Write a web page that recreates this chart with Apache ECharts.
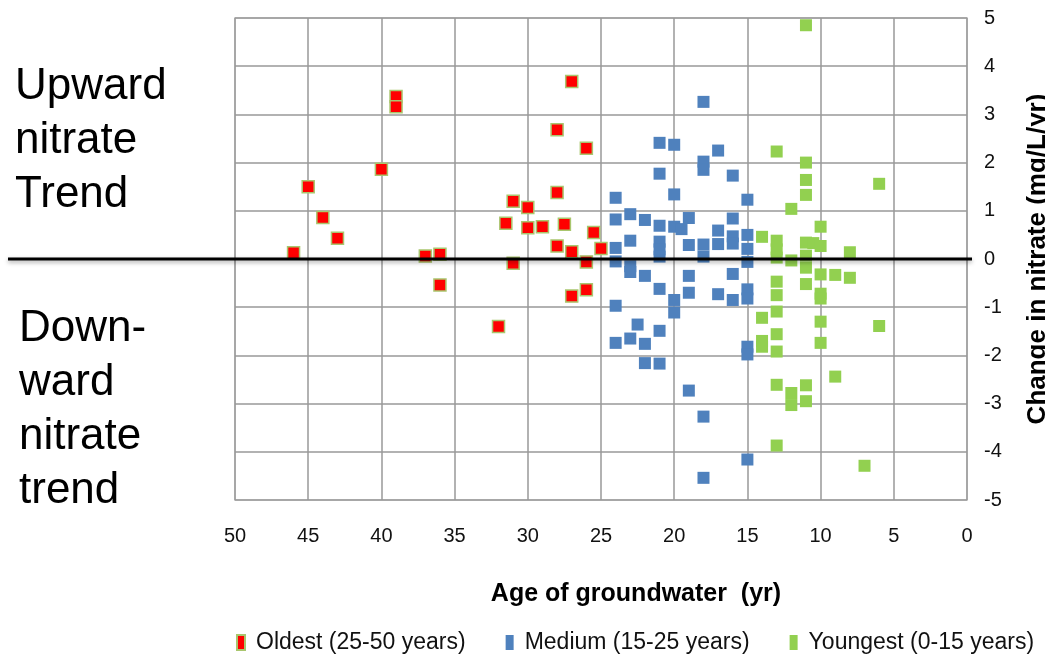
<!DOCTYPE html>
<html>
<head>
<meta charset="utf-8">
<title>Nitrate trend vs groundwater age</title>
<script src="https://cdn.jsdelivr.net/npm/echarts@6/dist/echarts.min.js"></script>
<style>
  html, body { margin: 0; padding: 0; background: #fff; }
  #chart { width: 1045px; height: 660px; }
</style>
</head>
<body>
<div id="chart"></div>
<script>
// values (age in yr, change in mg/L/yr)
var oldestAge = [46, 45, 44, 43, 40, 39, 39, 37, 36, 36, 32, 31.5, 31, 31, 30, 30, 29, 28, 28, 28, 27.5, 27, 27, 27, 26, 26, 26, 25.5, 25];
var oldestChange = [0.13, 1.5, 0.86, 0.43, 1.86, 3.37, 3.16, 0.06, 0.10, -0.54, -1.40, 0.74, 1.20, -0.09, 1.07, 0.65, 0.67, 2.68, 1.38, 0.27, 0.72, 3.68, 0.15, -0.77, 2.30, -0.06, -0.64, 0.55, 0.22];

var mediumAge = [18, 21, 20, 17, 18, 18, 16, 21, 24, 20, 15, 24, 23, 22, 21, 20, 19.5, 19, 16, 23, 24, 21, 21, 21, 19, 18, 18, 17, 17, 16, 16, 15, 15, 15,
  24, 23, 23, 22, 21, 20, 20, 19, 19, 17, 16, 16, 15, 15, 24, 22.5, 23, 24, 22, 21, 22, 21, 19, 18, 18, 15, 15, 15];
var mediumChange = [3.26, 2.41, 2.37, 2.25, 2.02, 1.85, 1.73, 1.77, 1.27, 1.34, 1.23, 0.82, 0.93, 0.81, 0.69, 0.67, 0.62, 0.85, 0.84, 0.38, 0.23, 0.36, 0.20, 0.05, 0.29, 0.30, 0.05, 0.59, 0.31, 0.47, 0.32, 0.50, 0.21, -0.06,
  -0.05, -0.15, -0.27, -0.35, -0.62, -0.85, -1.11, -0.35, -0.70, -0.73, -0.31, -0.85, -0.63, -0.82, -0.97, -1.36, -1.65, -1.74, -1.76, -1.49, -2.16, -2.17, -2.73, -3.27, -4.54, -1.82, -1.98, -4.16];

var youngestAge = [11, 13, 11, 11, 11, 6, 12, 10, 14, 13, 13, 13, 12, 11, 11, 11, 10.5, 10, 8, 10, 9, 8, 11, 13, 13, 10, 10,
  13, 14, 14, 14, 13, 13, 13, 12, 12, 11, 11, 13, 10, 10, 9, 6, 7];
var youngestChange = [4.85, 2.23, 2.0, 1.64, 1.33, 1.56, 1.04, 0.67, 0.46, 0.38, 0.20, 0.03, -0.03, 0.34, 0.07, -0.18, 0.33, 0.27, 0.14, -0.32, -0.33, -0.39, -0.52, -0.47, -0.75, -0.72, -0.82,
  -1.09, -1.22, -1.70, -1.82, -1.56, -1.92, -2.61, -2.78, -3.03, -2.62, -2.95, -3.87, -1.30, -1.74, -2.44, -1.39, -4.29];

var seriesNames = ['Oldest (25-50 years)', 'Medium (15-25 years)', 'Youngest (0-15 years)'];
var xTitle = 'Age of groundwater  (yr)';
var yTitle = 'Change in nitrate (mg/L/yr)';
var upText = 'Upward\nnitrate\nTrend';
var downText = 'Down-\nward\nnitrate\ntrend';

function pairs(xs, ys) {
  return xs.map(function (x, i) { return [x, ys[i]]; });
}

var font = '"Liberation Sans", Arial, sans-serif';
var dom = document.getElementById('chart');
var myChart = echarts.init(dom);

var option = {
  animation: false,
  backgroundColor: '#fff',
  textStyle: { fontFamily: font },
  grid: {
    left: 235, right: 78, top: 18, bottom: 160,
    outerBoundsMode: 'none',
    show: true, borderColor: '#d4d4d4', borderWidth: 2
  },
  legend: {
    left: 236, top: 631, padding: 0,
    itemWidth: 8, itemHeight: 15, itemGap: 40,
    textStyle: { fontSize: 23, color: '#111', fontFamily: font, padding: [0, 0, 0, 6] },
    data: seriesNames
  },
  xAxis: {
    type: 'value', inverse: true, min: 0, max: 50, interval: 5,
    name: xTitle, nameLocation: 'middle', nameGap: 82,
    nameTextStyle: { fontSize: 25, fontWeight: 'bold', color: '#000', padding: [0, 0, 0, 70] },
    axisLine: { show: false }, axisTick: { show: false },
    axisLabel: { fontSize: 20, color: '#111', margin: 26 },
    splitLine: { show: true, lineStyle: { color: '#999', width: 1.5 } }
  },
  yAxis: {
    type: 'value', position: 'right', min: -5, max: 5, interval: 1,
    name: yTitle, nameLocation: 'middle', nameGap: 58,
    nameTextStyle: { fontSize: 26, fontWeight: 'bold', color: '#000' },
    axisLine: { show: false }, axisTick: { show: false },
    axisLabel: { fontSize: 20, color: '#111', margin: 17 },
    splitLine: { show: true, lineStyle: { color: '#999', width: 1.5 } }
  },
  series: [
    {
      name: seriesNames[0], type: 'scatter', symbol: 'rect', symbolSize: 12,
      itemStyle: { color: '#ff0000', borderColor: '#a9c66e', borderWidth: 1.5, opacity: 1 },
      data: pairs(oldestAge, oldestChange)
    },
    {
      name: seriesNames[1], type: 'scatter', symbol: 'rect', symbolSize: 12,
      itemStyle: { color: '#4f81bd', opacity: 1 },
      data: pairs(mediumAge, mediumChange)
    },
    {
      name: seriesNames[2], type: 'scatter', symbol: 'rect', symbolSize: 12,
      itemStyle: { color: '#92d050', opacity: 1 },
      data: pairs(youngestAge, youngestChange)
    }
  ]
};
myChart.setOption(option);

// zero-trend divider and side annotations
var y0 = myChart.convertToPixel({ yAxisIndex: 0 }, 0);
var xEnd = myChart.convertToPixel({ xAxisIndex: 0 }, 0) + 5;
myChart.setOption({
  graphic: [
    {
      type: 'line', z: 100,
      shape: { x1: 8, y1: y0, x2: xEnd, y2: y0 },
      style: { stroke: '#000', lineWidth: 3, shadowBlur: 4, shadowColor: 'rgba(0,0,0,0.35)', shadowOffsetY: 2 }
    },
    {
      type: 'text', left: 15, top: 60,
      style: { text: upText, font: '44px ' + font, fill: '#000', lineHeight: 54 }
    },
    {
      type: 'text', left: 19, top: 302,
      style: { text: downText, font: '44px ' + font, fill: '#000', lineHeight: 54 }
    }
  ]
});
</script>
</body>
</html>
